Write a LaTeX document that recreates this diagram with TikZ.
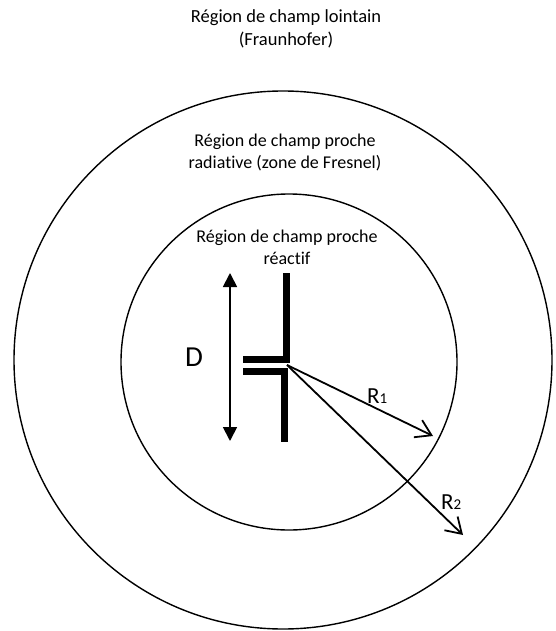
\documentclass[tikz,border=0pt]{standalone}
\usepackage{fontspec}
\setmainfont{Carlito}[Ligatures=NoCommon]
\usetikzlibrary{arrows.meta}

\begin{document}
\begin{tikzpicture}[x=1pt, y=-1pt,
    zone/.style={draw, line width=1.4pt},
    zonelabel/.style={align=center, inner sep=0pt, font=\fontsize{18}{21.5}\selectfont},
    bar/.style={line width=7pt, line join=miter},
    dimarrow/.style={line width=1.8pt, {Triangle[length=14pt,width=14pt]}-{Triangle[length=14pt,width=14pt]}},
    radarrow/.style={line width=1.8pt, -{Straight Barb[length=15pt,width=19pt]}}
  ]
  \useasboundingbox (0,0) rectangle (555,631);

  % regions
  \draw[zone] (283,360) circle[radius=269pt];
  \draw[zone] (289,362) circle[radius=168pt];

  \node[zonelabel, font=\fontsize{18.5}{23}\selectfont] (farlabel) at (286,28.5) {Région de champ lointain\\(Fraunhofer)};
  \node[zonelabel] (fresnellabel) at (285,152.5) {Région de champ proche\\radiative (zone de Fresnel)};
  \node[zonelabel] (reactlabel) at (287,247.5) {Région de champ proche\\réactif};

  % dipole
  \draw[bar] (286,273) -- (286,359) -- (243,359);
  \draw[bar] (243,371) -- (284,371) -- (284,442);

  \coordinate (dtop) at (230,273);
  \coordinate (dbot) at (230,441);
  \draw[dimarrow] (dtop) -- (dbot);
  \node[font=\fontsize{29}{32}\selectfont, inner sep=0pt] (dlabel) at (194,357) {D};

  % radii
  \coordinate (feed) at (287,365);
  \coordinate (r1tip) at (433,436);
  \coordinate (r2tip) at (463,535);
  \draw[radarrow] (feed) -- (r1tip);
  \draw[radarrow] (feed) -- (r2tip);
  \node[font=\fontsize{23}{26}\selectfont, inner sep=0pt, anchor=base west] (r1label) at (367,403) {R{\fontsize{15}{18}\selectfont 1}};
  \node[font=\fontsize{23}{26}\selectfont, inner sep=0pt, anchor=base west] (r2label) at (441,509) {R{\fontsize{15}{18}\selectfont 2}};
\end{tikzpicture}
\end{document}
